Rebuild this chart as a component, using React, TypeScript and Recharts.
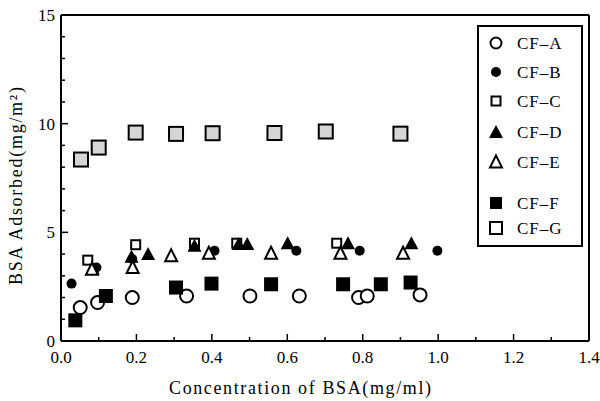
import React from "react";
import { ScatterChart, Scatter, XAxis, YAxis, Legend } from "recharts";

// ---- data ----
const cfA_x = [0.051, 0.097, 0.189, 0.333, 0.501, 0.632, 0.789, 0.812, 0.952];
const cfA_y = [1.54, 1.77, 2.0, 2.07, 2.07, 2.07, 2.0, 2.07, 2.12];

const cfB_x = [0.028, 0.094, 0.189, 0.407, 0.624, 0.792, 0.998];
const cfB_y = [2.64, 3.38, 3.77, 4.15, 4.15, 4.15, 4.15];

const cfC_x = [0.071, 0.198, 0.354, 0.466, 0.731];
const cfC_y = [3.72, 4.43, 4.5, 4.5, 4.5];

const cfD_x = [0.084, 0.187, 0.231, 0.354, 0.471, 0.494, 0.601, 0.761, 0.929];
const cfD_y = [3.35, 3.88, 4.0, 4.38, 4.46, 4.46, 4.5, 4.5, 4.5];

const cfE_x = [0.082, 0.19, 0.292, 0.392, 0.557, 0.741, 0.907];
const cfE_y = [3.3, 3.38, 3.92, 4.04, 4.04, 4.04, 4.04];

const cfF_x = [0.038, 0.119, 0.305, 0.399, 0.557, 0.748, 0.848, 0.927];
const cfF_y = [0.95, 2.07, 2.46, 2.64, 2.61, 2.61, 2.61, 2.69];

const cfG_x = [0.053, 0.1, 0.198, 0.305, 0.402, 0.566, 0.702, 0.9];
const cfG_y = [8.35, 8.9, 9.59, 9.53, 9.56, 9.57, 9.64, 9.54];

const xTicks = [0, 0.1, 0.2, 0.3, 0.4, 0.5, 0.6, 0.7, 0.8, 0.9, 1.0, 1.1, 1.2, 1.3, 1.4];
const yTicks = [0, 1, 2, 3, 4, 5, 6, 7, 8, 9, 10, 11, 12, 13, 14, 15];

const seriesNames = ["CF–A", "CF–B", "CF–C", "CF–D", "CF–E", "CF–F", "CF–G"];
const seriesKinds = ["openCircle", "dot", "smallSquare", "triangle", "openTriangle", "filledSquare", "graySquare"];

const zip = (xs: number[], ys: number[]) => xs.map((x, i) => ({ x, y: ys[i] }));
const seriesData = [
  zip(cfA_x, cfA_y),
  zip(cfB_x, cfB_y),
  zip(cfC_x, cfC_y),
  zip(cfD_x, cfD_y),
  zip(cfE_x, cfE_y),
  zip(cfF_x, cfF_y),
  zip(cfG_x, cfG_y),
];

const FONT = "'Liberation Serif', 'DejaVu Serif', serif";

function Marker({ kind, cx, cy, legend }: { kind: string; cx: number; cy: number; legend?: boolean }) {
  switch (kind) {
    case "openCircle": {
      const r = legend ? 5.5 : 6.5;
      return <circle cx={cx} cy={cy} r={r} fill="#fff" stroke="#000" strokeWidth={2} />;
    }
    case "dot":
      return <circle cx={cx} cy={cy} r={5} fill="#000" stroke="none" />;
    case "smallSquare": {
      const s = 9;
      return <rect x={cx - s / 2} y={cy - s / 2} width={s} height={s} fill="#fff" stroke="#000" strokeWidth={2} />;
    }
    case "triangle": {
      const h = 12;
      const w = 14;
      return <polygon points={`${cx},${cy - h / 2 - 1} ${cx - w / 2},${cy + h / 2} ${cx + w / 2},${cy + h / 2}`} fill="#000" />;
    }
    case "openTriangle": {
      const h = 11;
      const w = 12;
      return (
        <polygon
          points={`${cx},${cy - h / 2 - 1} ${cx - w / 2},${cy + h / 2} ${cx + w / 2},${cy + h / 2}`}
          fill="#fff"
          stroke="#000"
          strokeWidth={2}
          strokeLinejoin="miter"
        />
      );
    }
    case "filledSquare": {
      const s = legend ? 12 : 14;
      return <rect x={cx - s / 2} y={cy - s / 2} width={s} height={s} fill="#000" />;
    }
    case "graySquare": {
      const s = legend ? 12 : 14;
      return (
        <rect x={cx - s / 2} y={cy - s / 2} width={s} height={s} fill={legend ? "#fff" : "#d6d6d6"} stroke="#000" strokeWidth={2} />
      );
    }
  }
  return null;
}

const XTick = (props: any) => {
  const { x, y, payload } = props;
  const v = payload.value as number;
  const major = Math.round(v * 10) % 2 === 0;
  return (
    <g>
      <line x1={x} y1={y} x2={x} y2={y - (major ? 7 : 4)} stroke="#000" strokeWidth={1.5} />
      {major && (
        <text x={x} y={y + 22} textAnchor="middle" fontFamily={FONT} fontSize={17} fill="#000">
          {v.toFixed(1)}
        </text>
      )}
    </g>
  );
};

const XTickTop = (props: any) => {
  const { x, y, payload } = props;
  const v = payload.value as number;
  const major = Math.round(v * 10) % 2 === 0;
  return <line x1={x} y1={y} x2={x} y2={y + (major ? 7 : 4)} stroke="#000" strokeWidth={1.5} />;
};

const YTick = (props: any) => {
  const { x, y, payload } = props;
  const v = payload.value as number;
  const major = v % 5 === 0;
  return (
    <g>
      <line x1={x} y1={y} x2={x + (major ? 7 : 4)} y2={y} stroke="#000" strokeWidth={1.5} />
      {major && (
        <text x={x - 6} y={y + 6} textAnchor="end" fontFamily={FONT} fontSize={17} fill="#000">
          {v}
        </text>
      )}
    </g>
  );
};

const YTickRight = (props: any) => {
  const { x, y, payload } = props;
  const v = payload.value as number;
  const major = v % 5 === 0;
  return <line x1={x} y1={y} x2={x - (major ? 7 : 4)} y2={y} stroke="#000" strokeWidth={1.5} />;
};

const legendRowY = [18, 47, 76, 107, 137, 178, 203];

const LegendBox = () => (
  <svg width={106} height={222} style={{ display: "block" }}>
    <rect x={1} y={1} width={104} height={220} fill="#fff" stroke="#000" strokeWidth={2} />
    {seriesNames.map((name, i) => (
      <g key={name}>
        <Marker kind={seriesKinds[i]} cx={19} cy={legendRowY[i]} legend />
        <text x={40} y={legendRowY[i] + 6} fontFamily={FONT} fontSize={17} letterSpacing={1} fill="#000">
          {name}
        </text>
      </g>
    ))}
  </svg>
);

export default function App() {
  return (
    <div style={{ position: "absolute", left: 0, top: 0, width: 600, height: 401, background: "#fff" }}>
      <ScatterChart width={600} height={401} margin={{ top: 14, right: 10, bottom: 59, left: 60 }}>
        <XAxis
          type="number"
          dataKey="x"
          domain={[0, 1.4]}
          ticks={xTicks}
          interval={0}
          tick={<XTick />}
          tickSize={0}
          tickMargin={0}
          height={1}
          axisLine={{ stroke: "#000", strokeWidth: 2 }}
          tickLine={false}
          allowDataOverflow
        />
        <XAxis
          xAxisId="top"
          orientation="top"
          type="number"
          domain={[0, 1.4]}
          ticks={xTicks}
          interval={0}
          tick={<XTickTop />}
          tickSize={0}
          tickMargin={0}
          height={1}
          axisLine={{ stroke: "#000", strokeWidth: 2 }}
          tickLine={false}
        />
        <YAxis
          type="number"
          dataKey="y"
          domain={[0, 15]}
          ticks={yTicks}
          interval={0}
          tick={<YTick />}
          tickSize={0}
          tickMargin={0}
          width={1}
          axisLine={{ stroke: "#000", strokeWidth: 2 }}
          tickLine={false}
          allowDataOverflow
        />
        <YAxis
          yAxisId="right"
          orientation="right"
          type="number"
          domain={[0, 15]}
          ticks={yTicks}
          interval={0}
          tick={<YTickRight />}
          tickSize={0}
          tickMargin={0}
          width={1}
          axisLine={{ stroke: "#000", strokeWidth: 2 }}
          tickLine={false}
        />
        <Legend
          layout="horizontal"
          verticalAlign="middle"
          align="center"
          content={() => <LegendBox />}
          wrapperStyle={{ position: "absolute", left: 477, top: 25, width: 106, height: 222 }}
        />
        {seriesData.map((d, i) => (
          <Scatter
            key={seriesNames[i]}
            name={seriesNames[i]}
            data={d}
            isAnimationActive={false}
            shape={(p: any) => <Marker kind={seriesKinds[i]} cx={p.cx} cy={p.cy} />}
          />
        ))}
        <text x={300} y={394} textAnchor="middle" fontFamily={FONT} fontSize={18} textLength={262} fill="#000">
          Concentration of BSA(mg/ml)
        </text>
        <text
          x={22}
          y={186}
          textAnchor="middle"
          fontFamily={FONT}
          fontSize={18}
          textLength={198}
          transform="rotate(-90 22 186)"
          fill="#000"
        >
          BSA Adsorbed(mg/m²)
        </text>
      </ScatterChart>
    </div>
  );
}
